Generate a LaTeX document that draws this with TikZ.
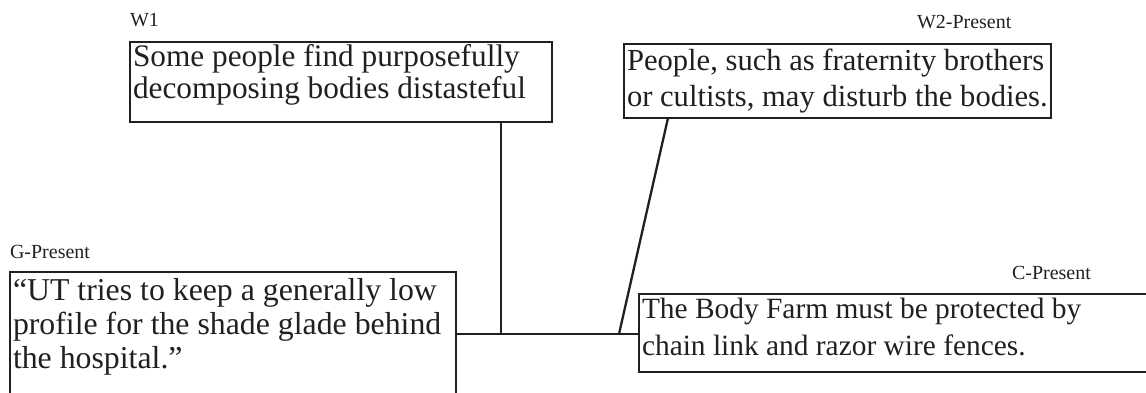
\documentclass[tikz,border=0pt]{standalone}
\usepackage{fontspec}
\setmainfont{Liberation Serif}
\usetikzlibrary{calc}
\definecolor{ink}{HTML}{231F20}
\tikzset{
  box/.style={draw=ink, line width=2.3pt, rectangle, inner sep=0pt, outer sep=0pt},
  txt/.style={text=ink, inner sep=0pt, outer sep=0pt, anchor=base west,
              font=\fontsize{#1}{36}\selectfont},
  txt/.default=30,
  tag/.style={text=ink, inner sep=0pt, outer sep=0pt, anchor=base west,
              font=\fontsize{20}{24}\selectfont},
  link/.style={draw=ink, line width=2.3pt}
}
\begin{document}
\begin{tikzpicture}[x=1pt, y=-1pt]
  \useasboundingbox (0,0) rectangle (1146,393);
  \clip (0,0) rectangle (1146,393);

  % boxes
  \node[box, anchor=north west, minimum width=422pt, minimum height=80pt] (w1) at (130,42) {};
  \node[box, anchor=north west, minimum width=427pt, minimum height=74pt] (w2) at (624,44) {};
  \node[box, anchor=north west, minimum width=446pt, minimum height=160pt] (g) at (10,272) {};
  \node[box, anchor=north west, minimum width=540pt, minimum height=78pt] (c) at (639,294) {};

  % headings above the boxes
  \node[tag] (w1tag) at (130,27) {W1};
  \node[tag] (w2tag) at (917,29) {W2-Present};
  \node[tag] (gtag) at (10,258) {G-Present};
  \node[tag] (ctag) at (1012,279) {C-Present};

  % box texts
  \node[txt=31.3] (w1a) at (133,67) {Some people find purposefully};
  \node[txt=31.3] (w1b) at (133,99) {decomposing bodies distasteful};

  \node[txt=30.6] (w2a) at (627,71) {People, such as fraternity brothers};
  \node[txt=30.6] (w2b) at (627,107) {or cultists, may disturb the bodies.};

  \node[txt=31.8] (ga) at (13,300) {“UT tries to keep a generally low};
  \node[txt=31.8] (gb) at (13,334) {profile for the shade glade behind};
  \node[txt=31.8] (gc) at (13,368) {the hospital.”};

  \node[txt=29.4] (ca) at (642,318) {The Body Farm must be protected by};
  \node[txt=29.4] (cb) at (642,355) {chain link and razor wire fences.};

  % connectors
  \coordinate (w1foot) at (501,334);
  \coordinate (w2foot) at (619,334);
  \draw[link] (g.east |- w1foot) -- (c.west |- w1foot);
  \draw[link] (w1.south -| w1foot) -- (w1foot);
  \draw[link] ($(w2.south west)+(44,0)$) -- (w2foot);
\end{tikzpicture}
\end{document}
